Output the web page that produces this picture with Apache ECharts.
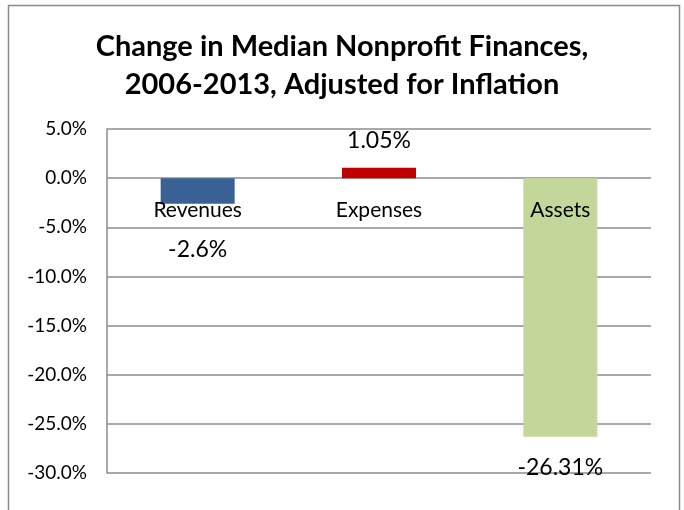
<!DOCTYPE html>
<html>
<head>
<meta charset="utf-8">
<script src="https://cdn.jsdelivr.net/npm/echarts@6/dist/echarts.min.js"></script>
<style>
  html, body { margin: 0; padding: 0; background: #fff; }
  #chart { width: 684px; height: 510px; }
</style>
</head>
<body>
<div id="chart"></div>
<script>
// data
const categories = ['Revenues', 'Expenses', 'Assets'];
const values = [-2.6, 1.05, -26.31];
const valueLabels = ['-2.6%', '1.05%', '-26.31%'];
const barColors = ['#3A6195', '#C00000', '#C4D79B'];
const labelGaps = [34, 16, 19];

const FONT = 'Lato';

const chart = echarts.init(document.getElementById('chart'));
chart.setOption({
    animation: false,
    graphic: [{
        type: 'rect',
        shape: { x: 8.5, y: 5.5, width: 671, height: 560 },
        style: { fill: 'none', stroke: '#8c8c8c', lineWidth: 1.5 },
        silent: true
    }],
    title: {
        text: 'Change in Median Nonprofit Finances,\n2006-2013, Adjusted for Inflation',
        left: 'center',
        top: 23,
        textStyle: {
            fontFamily: FONT,
            fontWeight: 'bold',
            fontSize: 29,
            lineHeight: 38,
            color: '#000'
        }
    },
    grid: { left: 107, right: 33, top: 129, bottom: 37, outerBoundsMode: 'none' },
    xAxis: {
        type: 'category',
        data: categories,
        axisLine: { show: false },
        axisTick: { show: false },
        axisLabel: { show: false }
    },
    yAxis: {
        type: 'value',
        min: -30,
        max: 5,
        interval: 5,
        axisLine: { show: true, lineStyle: { color: '#8c8c8c', width: 1.5 } },
        axisTick: { show: false },
        splitLine: { lineStyle: { color: '#8c8c8c', width: 1.5 } },
        axisLabel: {
            margin: 20,
            fontFamily: FONT,
            fontSize: 19,
            color: '#000',
            formatter: v => v.toFixed(1) + '%'
        }
    },
    series: [{
        type: 'bar',
        barWidth: 74,
        z: 2,
        data: values.map((v, i) => ({
            value: v,
            itemStyle: { color: barColors[i] },
            label: {
                show: true,
                position: 'outside',
                distance: labelGaps[i],
                formatter: valueLabels[i],
                fontFamily: FONT,
                fontSize: 23,
                color: '#000'
            }
        }))
    }, {
        // category names sit on the zero line, over the bars
        type: 'scatter',
        symbolSize: 0,
        z: 5,
        silent: true,
        itemStyle: { opacity: 1 },
        data: categories.map(c => [c, 0]),
        label: {
            show: true,
            position: 'bottom',
            distance: 22,
            formatter: p => p.value[0],
            fontFamily: FONT,
            fontSize: 21,
            color: '#000'
        }
    }]
});
</script>
</body>
</html>
